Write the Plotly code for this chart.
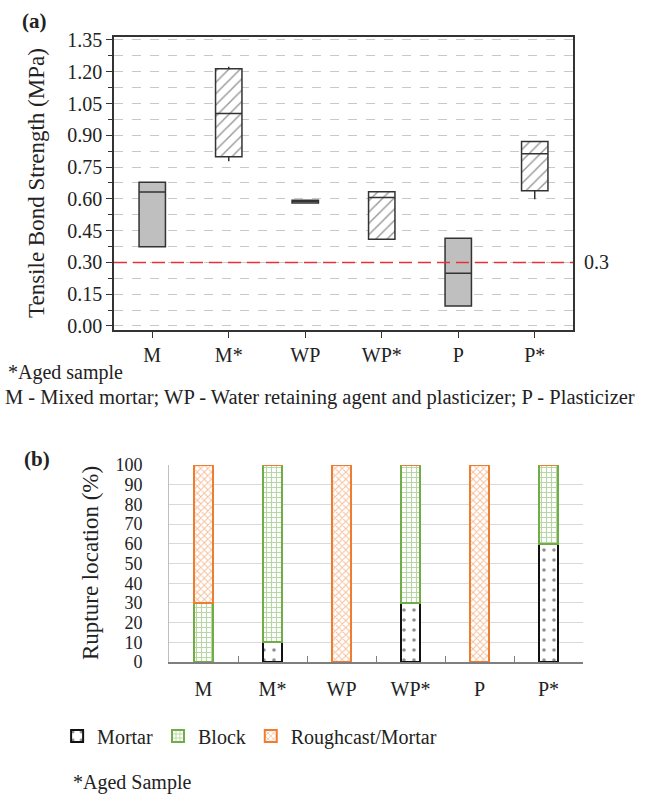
import plotly.graph_objects as go

# ---------- Data (a) ----------
cats = ["M", "M*", "WP", "WP*", "P", "P*"]
q1 = [0.374, 0.799, 0.580, 0.409, 0.094, 0.638]
med = [0.632, 1.003, 0.590, 0.607, 0.249, 0.813]
q3 = [0.678, 1.214, 0.594, 0.634, 0.414, 0.871]
lowf = [0.374, 0.778, 0.580, 0.409, 0.094, 0.598]
upf = [0.678, 1.223, 0.594, 0.634, 0.414, 0.871]
aged = [False, True, False, True, False, True]
ytick_a = [0.00, 0.15, 0.30, 0.45, 0.60, 0.75, 0.90, 1.05, 1.20, 1.35]
threshold = 0.3

# ---------- Data (b) ----------
mortar = [0, 10, 0, 30, 0, 60]
block = [30, 90, 0, 70, 0, 40]
rough = [70, 0, 100, 0, 100, 0]
ytick_b = list(range(0, 101, 10))

FONT = "Liberation Serif, Times New Roman, serif"
W, H = 649, 794

fig = go.Figure()

# hatched fill for aged samples (under the boxes)
hx = [c for c, a in zip(cats, aged) if a]
hb = [q for q, a in zip(q1, aged) if a]
hh = [t - b for t, b, a in zip(q3, q1, aged) if a]
fig.add_trace(go.Bar(
    x=hx, y=hh, base=hb, width=0.345, xaxis="x", yaxis="y",
    marker=dict(color="white", line=dict(width=0),
                pattern=dict(shape="/", fgcolor="#333333", bgcolor="white", size=8, solidity=0.18)),
    showlegend=False, hoverinfo="skip"))

fills = ["#bfbfbf" if not a else "rgba(0,0,0,0)" for a in aged]
for i, c in enumerate(cats):
    fig.add_trace(go.Box(
        x=[c], q1=[q1[i]], median=[med[i]], q3=[q3[i]],
        lowerfence=[lowf[i]], upperfence=[upf[i]],
        width=0.345, whiskerwidth=0, fillcolor=fills[i],
        line=dict(color="#333333", width=1.5),
        xaxis="x", yaxis="y", showlegend=False, boxpoints=False, hoverinfo="skip"))

# ---------- (b) stacked bars ----------
fig.add_trace(go.Bar(
    name="Mortar", x=cats, y=mortar, xaxis="x2", yaxis="y2", width=0.265,
    marker=dict(color="white", line=dict(color="#111111", width=2),
                pattern=dict(shape=".", fgcolor="#222222", bgcolor="white", size=10, solidity=0.1))))
fig.add_trace(go.Bar(
    name="Block", x=cats, y=block, xaxis="x2", yaxis="y2", width=0.265,
    marker=dict(color="white", line=dict(color="#70AD47", width=2),
                pattern=dict(shape="+", fgcolor="#70AD47", bgcolor="white", size=5, solidity=0.4))))
fig.add_trace(go.Bar(
    name="Roughcast/Mortar", x=cats, y=rough, xaxis="x2", yaxis="y2", width=0.265,
    marker=dict(color="white", line=dict(color="#ED7D31", width=2),
                pattern=dict(shape="x", fgcolor="#ED7D31", bgcolor="white", size=5, solidity=0.35))))

# domains
xa = [114 / W, 573 / W]
ya = [1 - 330 / H, 1 - 37 / H]
xb = [169 / W, 583 / W]
yb = [1 - 662 / H, 1 - 465 / H]

fig.update_layout(
    width=W, height=H,
    margin=dict(l=0, r=0, t=0, b=0),
    paper_bgcolor="white", plot_bgcolor="white",
    font=dict(family=FONT, size=20, color="#222222"),
    barmode="stack", boxmode="overlay", bargap=0,
    xaxis=dict(domain=xa, anchor="y", type="category", categoryorder="array", categoryarray=cats,
               range=[-0.5, 5.5], showline=True, linecolor="#333333", linewidth=1.5, mirror=True,
               ticks="outside", ticklen=6, tickcolor="#333333", showgrid=False,
               tickfont=dict(size=20, family=FONT), automargin=False),
    yaxis=dict(domain=ya, anchor="x", range=[-0.019, 1.364], tickvals=ytick_a,
               ticktext=[f"{v:.2f}" for v in ytick_a],
               showline=True, linecolor="#333333", linewidth=1.5, mirror=True,
               ticks="outside", ticklen=6, tickcolor="#333333",
               showgrid=True, gridcolor="#c8c8c8", griddash="dash", gridwidth=1,
               minor=dict(dtick=0.075, tick0=0, ticks="outside", ticklen=4, tickcolor="#333333",
                          showgrid=True, gridcolor="#c8c8c8", griddash="dash"),
               zeroline=False, tickfont=dict(size=20, family=FONT), automargin=False),
    xaxis2=dict(domain=xb, anchor="y2", type="category", categoryorder="array", categoryarray=cats,
                range=[-0.5, 5.5], showline=True, linecolor="#7f7f7f", linewidth=1.5,
                ticks="inside", ticklen=6, tickcolor="#7f7f7f", tickson="boundaries",
                ticklabelstandoff=8,
                showgrid=False, tickfont=dict(size=20, family=FONT), automargin=False),
    yaxis2=dict(domain=yb, anchor="x2", range=[0, 100], tickvals=ytick_b,
                showline=True, linecolor="#bfbfbf", linewidth=1, ticks="",
                ticklabelstandoff=22,
                showgrid=True, gridcolor="#d9d9d9", gridwidth=1, zeroline=False,
                tickfont=dict(size=18, family=FONT), automargin=False),
    legend=dict(orientation="h", x=0.088, y=1 - 736 / H, xanchor="left", yanchor="middle",
                font=dict(size=20, family=FONT), itemwidth=30, traceorder="normal",
                bgcolor="rgba(0,0,0,0)"),
    showlegend=True,
)

# threshold line
fig.add_shape(type="line", xref="x domain", yref="y", x0=0, x1=1, y0=threshold, y1=threshold,
              line=dict(color="#e8303a", width=1.5, dash="13px,6px"))
fig.add_annotation(xref="x domain", yref="y", x=1.02, y=threshold, text=str(threshold),
                   showarrow=False, xanchor="left", font=dict(size=20, family=FONT))

# axis titles
fig.add_annotation(xref="paper", yref="paper", x=36 / W, y=1 - 183 / H,
                   text="Tensile Bond Strength (MPa)", textangle=-90, showarrow=False,
                   xanchor="center", yanchor="middle", font=dict(size=23, family=FONT))
fig.add_annotation(xref="paper", yref="paper", x=90 / W, y=1 - 563 / H,
                   text="Rupture location (%)", textangle=-90, showarrow=False,
                   xanchor="center", yanchor="middle", font=dict(size=23, family=FONT))

# labels and notes
fig.add_annotation(xref="paper", yref="paper", x=20 / W, y=1 - 21 / H, text="<b>(a)</b>",
                   showarrow=False, xanchor="left", yanchor="middle", font=dict(size=21, family=FONT))
fig.add_annotation(xref="paper", yref="paper", x=22 / W, y=1 - 459 / H, text="<b>(b)</b>",
                   showarrow=False, xanchor="left", yanchor="middle", font=dict(size=21, family=FONT))
fig.add_annotation(xref="paper", yref="paper", x=6 / W, y=1 - 372 / H, text="*Aged sample",
                   showarrow=False, xanchor="left", yanchor="middle", font=dict(size=20, family=FONT))
fig.add_annotation(xref="paper", yref="paper", x=3 / W, y=1 - 397 / H,
                   text="M - Mixed mortar; WP - Water retaining agent and plasticizer; P - Plasticizer",
                   showarrow=False, xanchor="left", yanchor="middle", font=dict(size=20.5, family=FONT))
fig.add_annotation(xref="paper", yref="paper", x=71 / W, y=1 - 782 / H, text="*Aged Sample",
                   showarrow=False, xanchor="left", yanchor="middle", font=dict(size=20, family=FONT))

fig.write_html("out.html")
